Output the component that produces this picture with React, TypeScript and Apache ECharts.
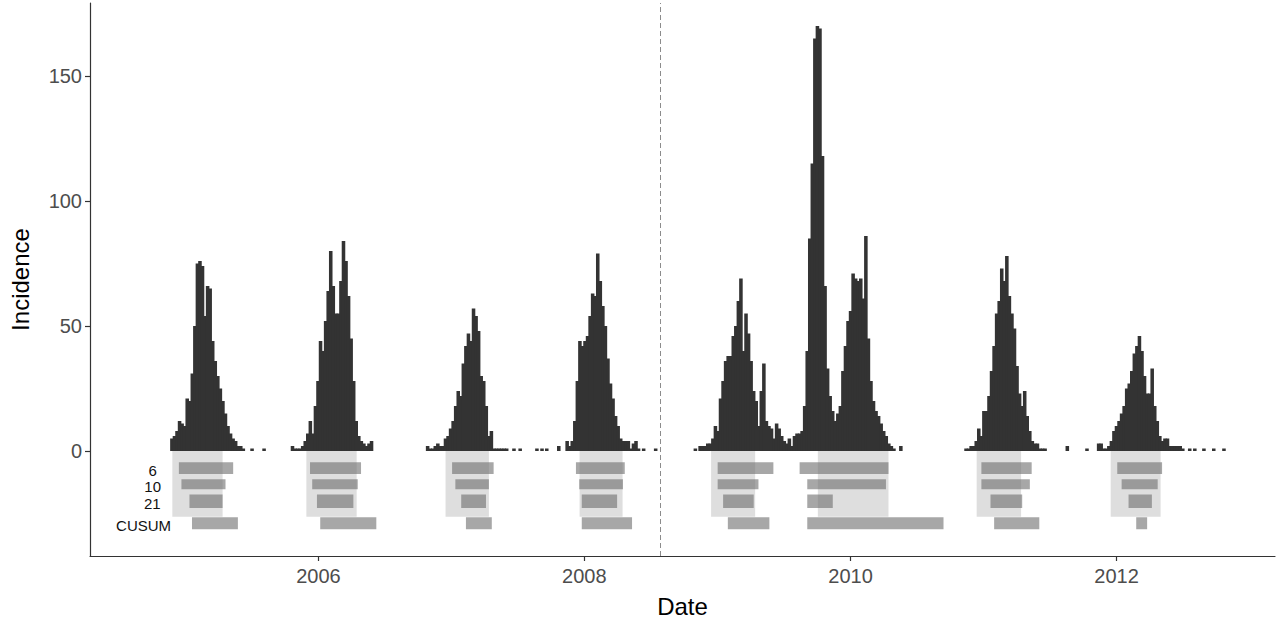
import React, { useEffect, useRef } from 'react';
import * as echarts from 'echarts';

const DAY = 86400000;
const WEEK = 7 * DAY;
const FONT = '"Liberation Sans", Arial, sans-serif';

// weekly incidence per season (first week given by the start date)
const seasonStarts = ['2004-11-20', '2005-10-17', '2006-10-23', '2007-11-10', '2008-11-09', '2009-08-16', '2010-11-09', '2011-11-08'];
const season2005 = [5, 6, 8, 12, 11, 10, 21, 20, 31, 50, 75, 76, 74, 54, 66, 65, 44, 36, 30, 25, 20, 15, 10, 7, 5, 4, 2, 2, 1];
const season2006 = [2, 1, 1, 1, 2, 4, 7, 12, 7, 18, 28, 44, 40, 52, 64, 80, 66, 55, 55, 68, 84, 76, 62, 45, 28, 12, 6, 4, 3, 2, 3, 4];
const season2007 = [2, 1, 1, 2, 3, 2, 2, 5, 6, 9, 12, 18, 24, 22, 35, 42, 47, 44, 57, 54, 48, 30, 28, 18, 6, 8, 1, 1, 1, 1, 1, 1];
const season2008 = [4, 2, 4, 12, 28, 44, 42, 44, 46, 54, 63, 62, 79, 68, 58, 50, 37, 27, 21, 14, 10, 5, 4, 4, 4, 1, 3, 4, 1];
const season2009 = [2, 2, 2, 3, 3, 5, 10, 8, 21, 28, 36, 38, 38, 46, 50, 60, 69, 40, 55, 47, 36, 24, 20, 10, 24, 35, 12, 10, 9, 5, 11, 9, 6, 4, 3, 5, 2, 6, 7, 7];
const season2010 = [8, 18, 40, 85, 115, 165, 170, 169, 118, 66, 33, 22, 16, 12, 15, 18, 32, 42, 52, 56, 71, 69, 68, 69, 61, 86, 45, 28, 20, 16, 14, 11, 8, 6, 3, 2, 1];
const season2011 = [1, 1, 2, 2, 4, 9, 6, 16, 16, 22, 32, 42, 55, 60, 73, 68, 78, 62, 55, 49, 34, 23, 18, 24, 14, 8, 4, 3, 3, 1, 1, 1];
const season2012 = [3, 3, 1, 1, 2, 4, 8, 10, 12, 15, 18, 25, 27, 32, 39, 42, 46, 40, 30, 23, 23, 33, 18, 12, 6, 4, 5, 5, 2, 2, 2, 2, 2, 1];
const seasonValues = [season2005, season2006, season2007, season2008, season2009, season2010, season2011, season2012];

// isolated weeks between seasons
const sporadicDates = ['2005-06-28', '2005-07-31', '2007-06-17', '2007-07-04', '2007-08-19', '2007-09-02', '2007-09-15', '2007-10-18', '2008-06-07', '2008-07-10', '2008-10-27', '2010-05-14', '2011-08-14', '2011-10-07', '2012-07-15', '2012-07-29', '2012-08-23', '2012-09-19', '2012-10-17'];
const sporadicValues = [1, 1, 1, 1, 1, 1, 1, 2, 1, 1, 1, 2, 2, 1, 1, 1, 1, 1, 1];

// epidemic periods (light background) and detected periods per method
const epidemicPeriods = [['2004-11-26', '2005-04-13'], ['2005-11-29', '2006-04-16'], ['2006-12-16', '2007-04-14'], ['2007-12-19', '2008-04-15'], ['2008-12-14', '2009-04-14'], ['2009-10-03', '2010-04-15'], ['2010-12-13', '2011-04-14'], ['2011-12-16', '2012-05-01']];
const periods6 = [['2004-12-14', '2005-05-12'], ['2005-12-09', '2006-04-28'], ['2007-01-03', '2007-04-27'], ['2007-12-09', '2008-04-21'], ['2009-01-01', '2009-06-03'], ['2009-08-14', '2010-04-15'], ['2010-12-26', '2011-05-13'], ['2012-01-03', '2012-05-05']];
const periods10 = [['2004-12-21', '2005-04-21'], ['2005-12-15', '2006-04-19'], ['2007-01-12', '2007-04-14'], ['2007-12-18', '2008-04-16'], ['2009-01-01', '2009-04-23'], ['2009-09-04', '2010-04-08'], ['2010-12-26', '2011-05-08'], ['2012-01-15', '2012-04-23']];
const periods21 = [['2005-01-12', '2005-04-13'], ['2005-12-28', '2006-04-07'], ['2007-01-28', '2007-04-06'], ['2007-12-25', '2008-03-31'], ['2009-01-16', '2009-04-10'], ['2009-09-04', '2009-11-13'], ['2011-01-20', '2011-04-17'], ['2012-02-03', '2012-04-07']];
const periodsCusum = [['2005-01-19', '2005-05-25'], ['2006-01-06', '2006-06-09'], ['2007-02-10', '2007-04-22'], ['2007-12-25', '2008-05-11'], ['2009-01-29', '2009-05-23'], ['2009-09-04', '2010-09-13'], ['2011-01-30', '2011-06-03'], ['2012-02-24', '2012-03-25']];
const laneNames = ['6', '10', '21', 'CUSUM'];
const lanePeriods = [periods6, periods10, periods21, periodsCusum];

const yTicks = [0, 50, 100, 150];
const xTicks = ['2006-01-01', '2008-01-01', '2010-01-01', '2012-01-01'];
const cutoffDate = '2008-07-27';

// layout of the lanes below zero (in y units)
const laneTop = [-4.5, -11.3, -17.4, -26.5];
const laneBottom = [-9.2, -15.3, -22.8, -31.3];
const epidemicBottom = -26.3;
const laneLabelX = ['2004-10-03', '2004-10-03', '2004-10-02', '2004-09-08'];

const t = (s: string) => Date.parse(s);

export default function App() {
  const chartRef = useRef<HTMLDivElement>(null);

  useEffect(() => {
    const chart = echarts.init(chartRef.current!, null, { renderer: 'svg' });

    const bars: number[][] = [];
    seasonValues.forEach((vals, s) => {
      const start = t(seasonStarts[s]);
      vals.forEach((v, i) => bars.push([start + i * WEEK, start + (i + 1) * WEEK, v, 0]));
    });
    sporadicDates.forEach((d, i) => bars.push([t(d), t(d) + WEEK, sporadicValues[i], 0]));

    const epi = epidemicPeriods.map(([a, b]) => [t(a), t(b), 0, epidemicBottom]);
    const lanes: number[][] = [];
    lanePeriods.forEach((list, k) => list.forEach(([a, b]) => lanes.push([t(a), t(b), laneTop[k], laneBottom[k]])));
    const labels = laneNames.map((_, k) => [t(laneLabelX[k]), (laneTop[k] + laneBottom[k]) / 2]);

    const rectItem = (fill: string, extra = 0) => (params: any, api: any) => {
      const p0 = api.coord([api.value(0), api.value(2)]);
      const p1 = api.coord([api.value(1), api.value(3)]);
      return {
        type: 'rect',
        shape: { x: p0[0], y: Math.min(p0[1], p1[1]), width: p1[0] - p0[0] + extra, height: Math.abs(p1[1] - p0[1]) },
        style: { fill },
      };
    };

    const xTickValues = xTicks.map(t);

    chart.setOption({
      animation: false,
      backgroundColor: '#ffffff',
      grid: { left: 86, right: 5, top: 3, bottom: 67 },
      xAxis: {
        type: 'value',
        min: t('2004-04-14'),
        max: t('2013-03-11'),
        splitLine: { show: false },
        axisLine: { show: true, onZero: false, lineStyle: { color: '#333333', width: 1.2 } },
        axisTick: { show: true, length: 5, customValues: xTickValues, lineStyle: { color: '#333333', width: 1.2 } },
        axisLabel: {
          customValues: xTickValues,
          formatter: (v: number) => String(new Date(v).getUTCFullYear()),
          color: '#4d4d4d',
          fontSize: 20,
          fontFamily: FONT,
          margin: 10,
        },
        name: 'Date',
        nameLocation: 'middle',
        nameGap: 38,
        nameTextStyle: { color: '#000000', fontSize: 24, fontFamily: FONT },
      },
      yAxis: {
        type: 'value',
        min: -42,
        max: 179.2,
        splitLine: { show: false },
        axisLine: { show: true, onZero: false, lineStyle: { color: '#333333', width: 1.2 } },
        axisTick: { show: true, length: 5, customValues: yTicks, lineStyle: { color: '#333333', width: 1.2 } },
        axisLabel: { customValues: yTicks, color: '#4d4d4d', fontSize: 20, fontFamily: FONT, margin: 8 },
        name: 'Incidence',
        nameLocation: 'middle',
        nameGap: 58,
        nameTextStyle: { color: '#000000', fontSize: 24, fontFamily: FONT },
      },
      series: [
        {
          type: 'custom',
          name: 'epidemic',
          data: epi,
          encode: { x: [0, 1], y: [2, 3] },
          renderItem: rectItem('#dedede'),
          silent: true,
          z: 1,
        },
        {
          type: 'custom',
          name: 'detected',
          data: lanes,
          encode: { x: [0, 1], y: [2, 3] },
          renderItem: rectItem('rgba(108,108,108,0.6)'),
          silent: true,
          z: 2,
        },
        {
          type: 'custom',
          name: 'incidence',
          data: bars,
          encode: { x: [0, 1], y: [2, 3] },
          renderItem: rectItem('#333333', 1),
          silent: true,
          z: 3,
        },
        {
          type: 'custom',
          name: 'labels',
          data: labels,
          encode: { x: 0, y: 1 },
          renderItem: (params: any, api: any) => {
            const p = api.coord([api.value(0), api.value(1)]);
            return {
              type: 'text',
              x: p[0],
              y: p[1] + 2,
              style: {
                text: laneNames[params.dataIndex],
                fill: '#111111',
                fontSize: 15,
                fontFamily: FONT,
                align: 'center',
                verticalAlign: 'middle',
              },
            };
          },
          silent: true,
          z: 4,
        },
        {
          type: 'line',
          data: [],
          markLine: {
            silent: true,
            symbol: 'none',
            label: { show: false },
            lineStyle: { type: [5, 3], color: '#8c8c8c', width: 1 },
            data: [{ xAxis: t(cutoffDate) }],
          },
        },
      ],
    });

    return () => {
      chart.dispose();
    };
  }, []);

  return <div ref={chartRef} style={{ position: 'absolute', left: 0, top: 0, width: 1280, height: 623 }} />;
}
